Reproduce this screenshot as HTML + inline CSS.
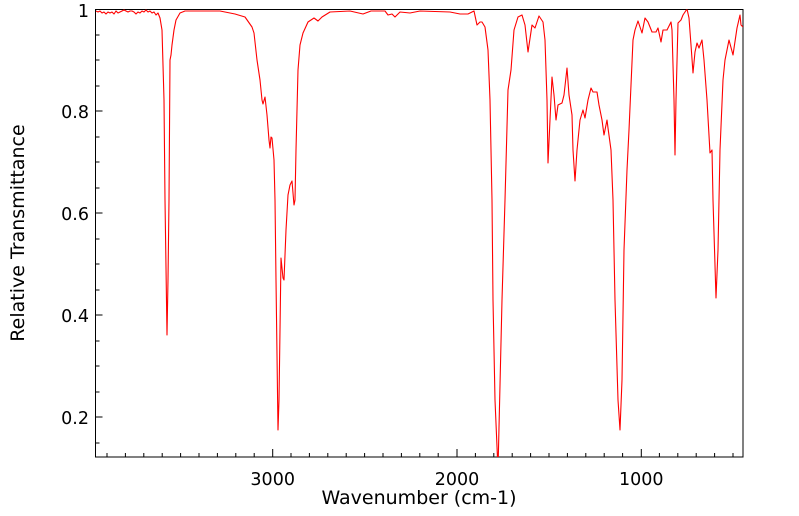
<!DOCTYPE html>
<html><head><meta charset="utf-8"><style>
body{margin:0;background:#fff;}
svg{display:block;font-family:"DejaVu Sans","Liberation Sans",sans-serif;}
</style></head><body>
<svg width="799" height="516" viewBox="0 0 799 516">
<defs><clipPath id="c"><rect x="95.5" y="9.5" width="647.5" height="447.5"/></clipPath></defs>
<g stroke="#000" stroke-width="1">
<path d="M95.5 35h4M95.5 60h4M95.5 86h4M95.5 137h4M95.5 162h4M95.5 188h4M95.5 239h4M95.5 264h4M95.5 290h4M95.5 341h4M95.5 366h4M95.5 392h4M95.5 443h4"/>
<path d="M95.5 111h7M95.5 213h7M95.5 315h7M95.5 417h7"/>
<path d="M107 457v-4M125.4 457v-4M143.8 457v-4M162.2 457v-4M180.6 457v-4M199 457v-4M217.4 457v-4M235.8 457v-4M254.2 457v-4M291 457v-4M309.4 457v-4M327.8 457v-4M346.2 457v-4M364.6 457v-4M383 457v-4M401.4 457v-4M419.8 457v-4M438.2 457v-4M475.4 457v-4M493.8 457v-4M512.2 457v-4M530.6 457v-4M549 457v-4M567.4 457v-4M585.8 457v-4M604.2 457v-4M622.6 457v-4M659.4 457v-4M677.8 457v-4M696.2 457v-4M714.6 457v-4M733 457v-4"/>
<path d="M272.7 457v-8M457 457v-8M641.3 457v-8"/>
</g>
<rect x="95.5" y="9.5" width="647.5" height="447.5" fill="none" stroke="#000" stroke-width="1"/>
<g clip-path="url(#c)">
<polyline fill="none" stroke="#ff0000" stroke-width="1.1" stroke-linejoin="round" points="96,11 98,12 100,11 102,13 104,12 106,14 108,12 110,13 112,12 114,14 116,11 118,13 120,12 122,11 124,10 126,11 128,12 130,11 132,11 134,12 136,14 138,12 140,13 142,11 144,12 146,10 148,12 150,11 152,13 154,12 156,15 158,13 160,18 162,30 164,100 165,200 167,335 168,280 169,200 170,60 171,55 172,45 174,30 176,20 180,13 185,11 220,11 235,14 245,17 252,27 254,33 257,60 260,80 262,100 263,104 265,97 267,115 269,140 270,148 271,137 272,138 274,160 275,200 276,280 278,430 279,400 280,330 281,258 283,278 284,280 286,230 288,195 290,185 292,181 294,205 295,200 296,150 298,70 300,45 303,33 308,22 314,18 318,21 322,17 330,12 350,11 363,14 371,11 385,11 388,15 392,14 395,17 400,12 410,13 420,11 450,12 460,14 468,14 474,11 477,25 480,22 482,22 485,27 488,50 490,100 492,200 493,300 495,400 498,470 502,300 505,200 508,90 511,70 514,30 518,17 522,15 525,25 528,52 532,25 535,28 539,16 543,22 545,40 547,100 548,163 550,120 552,77 554,95 556,120 558,105 562,103 564,95 567,68 569,95 572,115 573,150 575,181 577,150 580,120 583,110 585,118 588,100 591,88 593,92 597,92 599,105 602,120 604,135 607,120 608,128 611,150 613,200 615,300 618,400 620,430 622,380 624,250 627,170 629,130 633,40 635,30 638,21 642,33 645,18 648,22 652,32 656,32 658,28 661,42 663,30 667,30 671,22 672,30 674,100 675,155 676,100 678,23 681,20 683,15 687,9 689,18 691,45 693,73 695,52 697,43 699,48 702,40 704,60 707,100 710,153 712,150 713,200 716,298 718,250 720,150 723,80 725,60 729,40 733,55 737,28 740,15 741,25 743,27"/>
</g>
<g font-size="17.5" fill="#000">
<text x="89" y="17" text-anchor="end">1</text>
<text x="89" y="118" text-anchor="end">0.8</text>
<text x="89" y="220" text-anchor="end">0.6</text>
<text x="89" y="322" text-anchor="end">0.4</text>
<text x="89" y="424" text-anchor="end">0.2</text>
<text x="272.7" y="485" text-anchor="middle">3000</text>
<text x="457" y="485" text-anchor="middle">2000</text>
<text x="641.3" y="485" text-anchor="middle">1000</text>
<text x="419" y="504" text-anchor="middle" font-size="19">Wavenumber (cm-1)</text>
<text transform="translate(24,233) rotate(-90)" text-anchor="middle" font-size="19">Relative Transmittance</text>
</g>
</svg>
</body></html>
